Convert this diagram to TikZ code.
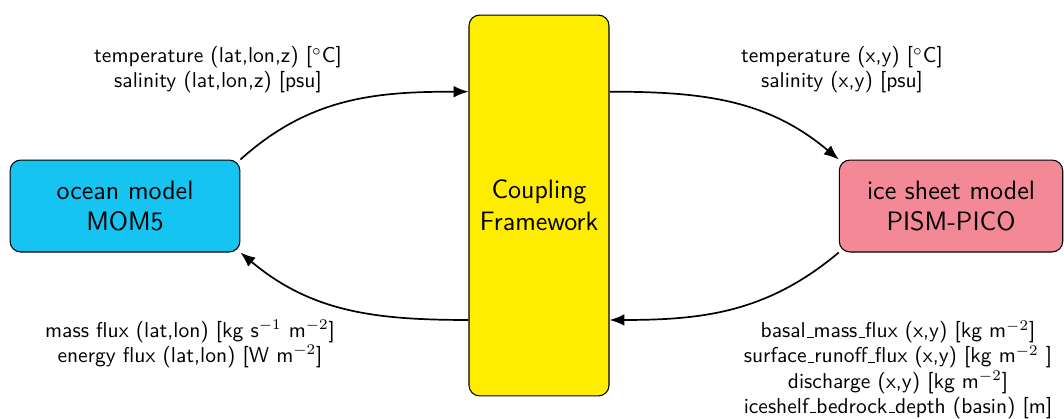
\documentclass[tikz,border=0pt]{standalone}
\usetikzlibrary{arrows.meta}
\renewcommand{\familydefault}{\sfdefault}
\newcommand{\usc}{\leavevmode\kern.06em\vbox{\hrule width.3em}}
\definecolor{oceanc}{RGB}{22,196,242}
\definecolor{couplc}{RGB}{255,237,0}
\definecolor{icec}{RGB}{243,137,150}
\begin{document}
\begin{tikzpicture}[x=0.47pt,y=-0.47pt,
  model/.style={draw=black, line width=0.5pt, rounded corners=5pt, inner sep=0pt, align=center,
    font=\fontsize{12.5}{15}\selectfont},
  flow/.style={thick, -{Latex[length=7pt,width=5.5pt]}},
  lbl/.style={align=center, font=\fontsize{10.1}{11.8}\selectfont, inner sep=0pt}]
\useasboundingbox (0,0) rectangle (1064,418);
\node[model, fill=oceanc, minimum width=108pt, minimum height=43.2pt] (oc) at (125,206) {ocean model\\MOM5};
\node[model, fill=couplc, minimum width=65.8pt, minimum height=179pt] (cp) at (539,205.5) {Coupling\\Framework};
\node[model, fill=icec, minimum width=105pt, minimum height=43.2pt] (ic) at (951,206) {ice sheet model\\PISM-PICO};
\draw[flow] (oc.north east) to[out=42,in=180] ([yshift=53.5pt]cp.west);
\draw[flow] ([yshift=53.5pt]cp.east) to[out=0,in=140] (ic.north west);
\draw[flow] (ic.south west) to[out=220,in=0] ([yshift=-53.8pt]cp.east);
\draw[flow] ([yshift=-53.8pt]cp.west) to[out=180,in=-40] (oc.south east);
\node[lbl] (l1) at (218,70) {temperature (lat,lon,z) [$^\circ$C]\\salinity (lat,lon,z) [psu]};
\node[lbl] (l2) at (842,70) {temperature (x,y) [$^\circ$C]\\salinity (x,y) [psu]};
\node[lbl] (l3) at (190,344) {mass flux (lat,lon) [kg s$^{-1}$ m$^{-2}$]\\energy flux (lat,lon) [W m$^{-2}$]};
\node[lbl] (l4) at (898,369.5) {basal\usc mass\usc flux (x,y) [kg m$^{-2}$]\\surface\usc runoff\usc flux (x,y) [kg m$^{-2}$ ]\\discharge (x,y) [kg m$^{-2}$]\\iceshelf\usc bedrock\usc depth (basin) [m]};
\end{tikzpicture}
\end{document}
